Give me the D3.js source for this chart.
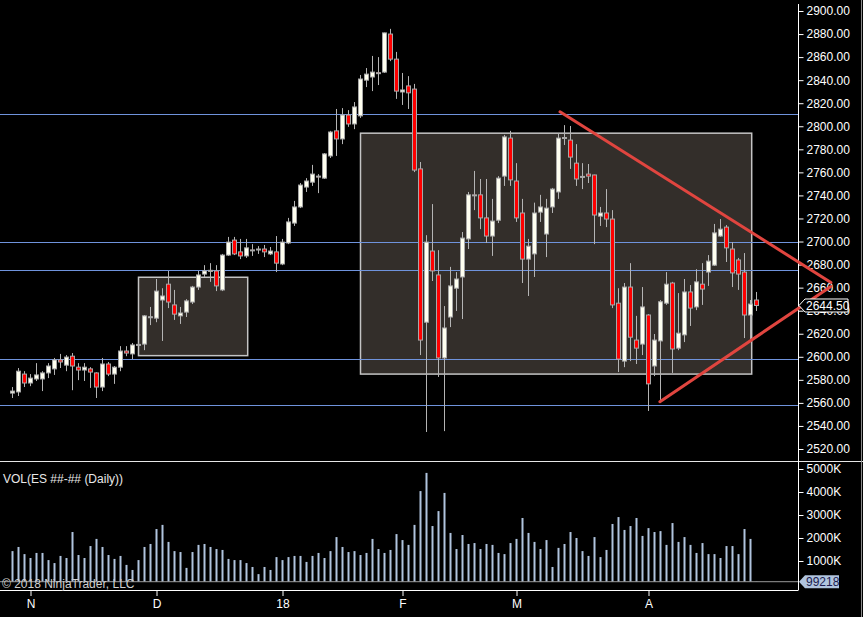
<!DOCTYPE html>
<meta charset="utf-8">

<!-- Load d3.js -->
<script src="https://d3js.org/d3.v7.min.js"></script>

<style>
    body {
        margin: 0;
        background: #000;
    }
    text {
        font-family: Arial, 'Liberation Sans', sans-serif;
        font-size: 12px;
    }
</style>

<div id="chart"></div>

<script>
    // daily ES bars, oldest first
    let opens = [
        2568.5, 2569.5, 2585, 2577.25, 2580.75, 2580.75, 2586, 2589.5, 2597.25, 2592.75,
        2600.5, 2591, 2588.5, 2589.5, 2586, 2573.75, 2593.75, 2585, 2591, 2605,
        2602.5, 2610.25, 2611, 2634.25, 2633.5, 2649.25, 2663, 2645, 2635.5, 2638.75,
        2647.5, 2660.5, 2671.75, 2674.5, 2674.5, 2658, 2688.25, 2701.25, 2691, 2687.5,
        2692.75, 2693, 2693.5, 2689.25, 2691, 2680.5, 2698.75, 2716, 2730, 2747.25,
        2751.5, 2756.75, 2755, 2774.25, 2796, 2789, 2809.75, 2802, 2809, 2840,
        2842.75, 2846.5, 2847, 2880, 2858.25, 2829.75, 2835, 2832.25, 2763, 2630,
        2691.75, 2671, 2599, 2634.5, 2659.5, 2669.25, 2702.25, 2740.5, 2740.5, 2720.5,
        2704.75, 2718.5, 2756.75, 2789.75, 2752.5, 2724.75, 2684.75, 2689.25, 2725.5, 2706.5,
        2730, 2743, 2789.5, 2788, 2768, 2756, 2758.5, 2757.75, 2722, 2724.75,
        2719.5, 2646.5, 2596.25, 2660.5, 2614.5, 2611, 2636.25, 2592, 2613.75, 2646.5,
        2664, 2607.5, 2619, 2656.25, 2643.25, 2663, 2673.5, 2679.5, 2704.75, 2712.5,
        2693.5, 2684, 2673.5, 2636.25, 2649.25
    ];
    let highs = [
        2573.75, 2590.25, 2587.5, 2585, 2594.5, 2587.5, 2594.5, 2599, 2602.5, 2601.5,
        2603.25, 2594.5, 2594.5, 2591, 2586.5, 2599, 2595.5, 2592, 2609.25, 2609.25,
        2612, 2612, 2636.25, 2643.25, 2667.5, 2659.5, 2674.5, 2658, 2643.25, 2650,
        2661.5, 2674.5, 2679.5, 2681.25, 2679.5, 2689.25, 2704, 2704, 2702.25, 2702.25,
        2697.75, 2696, 2697, 2695.25, 2704.75, 2702.25, 2720.5, 2735.25, 2750.75, 2755,
        2766.5, 2758.5, 2776.75, 2796, 2815, 2815.75, 2814, 2821, 2844.5, 2850.5,
        2861, 2860, 2881.25, 2884.5, 2864.5, 2846.25, 2843.5, 2836.75, 2769, 2705.5,
        2732.5, 2692.5, 2644, 2678, 2673.5, 2708.25, 2743, 2761.25, 2754.25, 2754.25,
        2737, 2756.75, 2792.5, 2796, 2768, 2737, 2702.25, 2733.75, 2740.5, 2737,
        2746.5, 2794, 2801, 2800.25, 2784.5, 2768, 2767.25, 2758, 2730, 2745.5,
        2727.25, 2659.5, 2664, 2681.25, 2635.5, 2660.5, 2637, 2619.75, 2649.25, 2673.5,
        2665, 2655.25, 2667.5, 2662.25, 2676, 2681.25, 2688.25, 2715.25, 2719.5, 2714.25,
        2699.5, 2685.75, 2690, 2649.25, 2656.25
    ];
    let lows = [
        2564.25, 2566, 2573.75, 2574.5, 2579, 2570.25, 2581.5, 2584.25, 2590.25, 2587.5,
        2571, 2579.75, 2579, 2573, 2564.25, 2570.25, 2583.25, 2576.5, 2587.5, 2600.5,
        2598, 2609, 2605.75, 2627.5, 2630, 2613.75, 2642.25, 2632, 2628.5, 2634.5,
        2645.75, 2658, 2669.25, 2665, 2657, 2657, 2687.5, 2688.25, 2684.75, 2685.75,
        2687.5, 2689.25, 2686.5, 2688.25, 2673.5, 2679.5, 2697.75, 2713.5, 2729, 2743,
        2748.25, 2742, 2754.25, 2772.5, 2774.25, 2784.5, 2799.5, 2797.5, 2807.25, 2834,
        2830.5, 2835.75, 2846.25, 2856.5, 2823.75, 2818.5, 2815, 2760.25, 2601.5, 2534.75,
        2665.75, 2582.5, 2535.5, 2625.75, 2639.75, 2632.75, 2693.5, 2727.25, 2710.75, 2698.75,
        2687.5, 2716, 2748.25, 2748.25, 2717, 2664, 2652.75, 2669.25, 2717, 2686.5,
        2724.75, 2737, 2783.75, 2763, 2748.25, 2745.5, 2750.75, 2697.75, 2713.5, 2712.5,
        2642.25, 2586.75, 2591, 2596.25, 2593.75, 2601.5, 2553, 2583.25, 2560.75, 2645,
        2586, 2605.75, 2612.75, 2626.75, 2640.5, 2645, 2661.5, 2678.75, 2704, 2682.25,
        2660.5, 2658, 2616.25, 2614.5, 2639.75
    ];
    let closes = [
        2570.25, 2587.5, 2577.25, 2581.5, 2584.25, 2586, 2592, 2597.25, 2595.5, 2599.75,
        2592, 2588.5, 2591, 2586.75, 2573.75, 2593.75, 2585, 2591, 2605, 2603.25,
        2610.25, 2610.75, 2635.5, 2634.75, 2657, 2652.75, 2647.5, 2637, 2638, 2648.5,
        2660.5, 2671, 2674.5, 2675, 2661.5, 2688.25, 2699.5, 2689.25, 2687.5, 2694.5,
        2692.5, 2693.5, 2691, 2691.75, 2681.25, 2699.5, 2717, 2730, 2749, 2752.5,
        2758.5, 2756.25, 2776, 2795, 2789, 2809.75, 2802, 2816.75, 2841, 2845.25,
        2847, 2846.25, 2881, 2858.25, 2830.5, 2831.5, 2829, 2762, 2614.5, 2699.5,
        2674.5, 2599, 2625, 2661.5, 2667.5, 2703, 2740.5, 2740, 2720.5, 2704.75,
        2717.75, 2755, 2790.75, 2753.5, 2720.5, 2684.75, 2696, 2724.75, 2730, 2729,
        2745.5, 2789.75, 2790.25, 2773.25, 2754.25, 2756.5, 2756.75, 2723, 2724.75, 2719.5,
        2645, 2598, 2660.5, 2617, 2607.5, 2643.25, 2576.5, 2614.5, 2647.75, 2663,
        2606.75, 2620.5, 2656.25, 2642.25, 2665, 2658.75, 2683, 2707.5, 2710.75, 2694.5,
        2672.75, 2671.75, 2636.25, 2645.75, 2644.5
    ];
    // volume in thousands of contracts
    let volumes = [
        1430, 1610, 1300, 1130, 1350, 1350, 1040, 910, 1220, 1130,
        2260, 1260, 1130, 1650, 1960, 1610, 1260, 1090, 1220, 830,
        610, 1040, 1610, 1740, 2390, 2570, 1830, 1430, 1390, 700,
        1390, 1700, 1740, 1610, 1520, 1480, 1090, 1040, 1040, 910,
        740, 430, 740, 610, 1170, 1040, 1170, 1220, 1220, 960,
        1220, 1350, 1130, 1430, 2040, 1610, 1390, 1430, 1260, 1350,
        1960, 1520, 1350, 1480, 2170, 1910, 1700, 2570, 4040, 4830,
        2520, 3170, 3960, 2220, 1520, 2130, 1740, 1780, 1520, 1740,
        1700, 1350, 1300, 1780, 1960, 2870, 2220, 1830, 1520, 1910,
        740, 1570, 1740, 2260, 2000, 1430, 1220, 2040, 1170, 1480,
        2610, 2910, 2350, 2520, 2870, 2090, 2430, 2260, 2300, 1700,
        2650, 1830, 2040, 1700, 1350, 1780, 1300, 1300, 1130, 1650,
        1650, 1300, 2390, 1960, 99.218
    ];

    let tickIndex = [3, 24, 45, 65, 84, 106];
    let tickLabels = ["N", "D", "18", "F", "M", "A"];
    let priceTicks = d3.range(2520, 2901, 20);
    let volumeTicks = [1000, 2000, 3000, 4000, 5000];

    // drawn objects: horizontal levels, shaded zones, wedge lines
    let levels = [2811, 2700, 2675.25, 2598, 2558];
    let zoneStart = [21, 58];
    let zoneEnd = [39.2, 123.2];
    let zoneLow = [2601, 2585];
    let zoneHigh = [2669, 2794];
    let wedgeUpper = [[91.25, 2812.5], [136.4, 2664.5]];
    let wedgeLower = [[107.9, 2561], [136.4, 2661]];

    let width = 863, height = 617;
    let axisX = 798;

    let svg = d3.select("#chart")
        .append("svg")
        .attr("width", width)
        .attr("height", height)
        .style("background", "#000");

    let x = d3.scaleLinear().domain([0, 124]).range([12.5, 756.5]);
    let y = d3.scaleLinear().domain([2520, 2900]).range([449, 11]);
    let yVol = d3.scaleLinear().domain([0, 5000]).range([584, 469]);

    let bars = d3.range(opens.length).map(function (i) {
        return {i: i, o: opens[i], h: highs[i], l: lows[i], c: closes[i], v: volumes[i]};
    });
    let lastVol = volumes[volumes.length - 1];
    let lastPrice = closes[closes.length - 1];

    // clip for the volume pane, bars stop at the last-volume line
    svg.append("clipPath").attr("id", "volclip")
        .append("rect")
        .attr("x", 0).attr("y", 462)
        .attr("width", axisX).attr("height", yVol(lastVol) - 462);

    // shaded zones
    svg.selectAll(".zone")
        .data(zoneStart)
        .enter().append("rect")
        .attr("class", "zone")
        .attr("x", function (d) { return x(d); })
        .attr("y", function (d, i) { return y(zoneHigh[i]); })
        .attr("width", function (d, i) { return x(zoneEnd[i]) - x(d); })
        .attr("height", function (d, i) { return y(zoneLow[i]) - y(zoneHigh[i]); })
        .style("fill", "#332e2a")
        .style("stroke", "#c4c4c4")
        .style("stroke-width", 1.5);

    // horizontal levels
    svg.selectAll(".level")
        .data(levels)
        .enter().append("line")
        .attr("x1", 0).attr("x2", axisX)
        .attr("y1", function (d) { return Math.round(y(d)) + 0.5; })
        .attr("y2", function (d) { return Math.round(y(d)) + 0.5; })
        .style("stroke", "#6f93dc")
        .style("stroke-width", 1);

    // candles: wick then body
    let candle = svg.selectAll(".candle")
        .data(bars)
        .enter().append("g");

    candle.append("line")
        .attr("x1", function (d) { return x(d.i); })
        .attr("x2", function (d) { return x(d.i); })
        .attr("y1", function (d) { return y(d.h); })
        .attr("y2", function (d) { return y(d.l); })
        .style("stroke", "#b4b4b4")
        .style("stroke-width", 1);

    candle.append("rect")
        .attr("x", function (d) { return x(d.i) - 2; })
        .attr("y", function (d) { return y(Math.max(d.o, d.c)); })
        .attr("width", 4)
        .attr("height", function (d) { return Math.max(1, Math.abs(y(d.o) - y(d.c))); })
        .style("fill", function (d) { return d.c >= d.o ? "#fffff0" : "#ff0000"; })
        .style("stroke", "#a8a8a8")
        .style("stroke-width", 1);

    // volume bars
    svg.append("g")
        .attr("clip-path", "url(#volclip)")
        .selectAll("rect")
        .data(bars)
        .enter().append("rect")
        .attr("x", function (d) { return x(d.i) - 1; })
        .attr("y", function (d) { return yVol(d.v); })
        .attr("width", 2)
        .attr("height", function (d) { return yVol(0) - yVol(d.v); })
        .style("fill", "#b0c4de");

    // last volume line
    svg.append("line")
        .attr("x1", 0).attr("x2", axisX)
        .attr("y1", yVol(lastVol)).attr("y2", yVol(lastVol))
        .style("stroke", "#9a9a9a")
        .style("stroke-width", 1);

    // frame lines
    svg.append("line")
        .attr("x1", 0).attr("x2", width)
        .attr("y1", 461.5).attr("y2", 461.5)
        .style("stroke", "#e6e6e6");
    svg.append("line")
        .attr("x1", axisX + 0.5).attr("x2", axisX + 0.5)
        .attr("y1", 4).attr("y2", 590)
        .style("stroke", "#ffffff");
    svg.append("line")
        .attr("x1", width - 1.5).attr("x2", width - 1.5)
        .attr("y1", 0).attr("y2", height)
        .style("stroke", "#8a8a8a");

    // price axis
    let priceAxis = svg.append("g")
        .attr("transform", "translate(" + (axisX + 0.5) + ",0)")
        .call(d3.axisRight(y).tickValues(priceTicks).tickSize(5).tickPadding(3)
            .tickFormat(d3.format(".2f")));

    // volume axis
    let volAxis = svg.append("g")
        .attr("transform", "translate(" + (axisX + 0.5) + ",0)")
        .call(d3.axisRight(yVol).tickValues(volumeTicks).tickSize(5).tickPadding(3)
            .tickFormat(function (d) { return d + "K"; }));

    // time axis
    let timeAxis = svg.append("g")
        .attr("transform", "translate(0,590)")
        .call(d3.axisBottom(x).tickValues(tickIndex).tickSize(6).tickPadding(3)
            .tickFormat(function (d, i) { return tickLabels[i]; }));

    [priceAxis, volAxis, timeAxis].forEach(function (a) {
        a.select(".domain").remove();
        a.selectAll("line").style("stroke", "#fff");
        a.selectAll("text").style("fill", "#fff").style("font-size", "12px")
            .style("font-family", "Arial, 'Liberation Sans', sans-serif");
    });
    svg.append("line")
        .attr("x1", 0).attr("x2", axisX + 0.5)
        .attr("y1", 590.5).attr("y2", 590.5)
        .style("stroke", "#fff");

    // pane labels
    svg.append("text")
        .attr("x", 3).attr("y", 483)
        .style("fill", "#e8e8e8")
        .text("VOL(ES ##-## (Daily))");
    svg.append("text")
        .attr("x", 2).attr("y", 588)
        .style("fill", "#d0d0d0")
        .text("\u00a9 2018 NinjaTrader, LLC");

    // wedge lines
    svg.selectAll(".wedge")
        .data([wedgeUpper, wedgeLower])
        .enter().append("line")
        .attr("x1", function (d) { return x(d[0][0]); })
        .attr("y1", function (d) { return y(d[0][1]); })
        .attr("x2", function (d) { return x(d[1][0]); })
        .attr("y2", function (d) { return y(d[1][1]); })
        .style("stroke", "#e0453f")
        .style("stroke-width", 3)
        .style("stroke-linecap", "round");

    // last price marker
    let yp = y(lastPrice);
    svg.append("path")
        .attr("d", "M" + (axisX + 1) + "," + yp + " L" + (axisX + 7) + "," + (yp - 6.5) +
            " H848 V" + (yp + 6.5) + " H" + (axisX + 7) + " Z")
        .style("fill", "#000")
        .style("stroke", "#fff")
        .style("stroke-width", 1);
    svg.append("text")
        .attr("x", axisX + 8).attr("y", yp)
        .attr("dy", "0.35em")
        .style("fill", "#fff")
        .text(d3.format(".2f")(lastPrice));

    // last volume marker
    let yv = yVol(lastVol);
    svg.append("path")
        .attr("d", "M" + (axisX + 1) + "," + yv + " L" + (axisX + 7) + "," + (yv - 6.5) +
            " H839 V" + (yv + 6.5) + " H" + (axisX + 7) + " Z")
        .style("fill", "#b0c4de");
    svg.append("text")
        .attr("x", axisX + 8).attr("y", yv)
        .attr("dy", "0.35em")
        .style("fill", "#1c1c50")
        .text(Math.round(lastVol * 1000));
</script>
